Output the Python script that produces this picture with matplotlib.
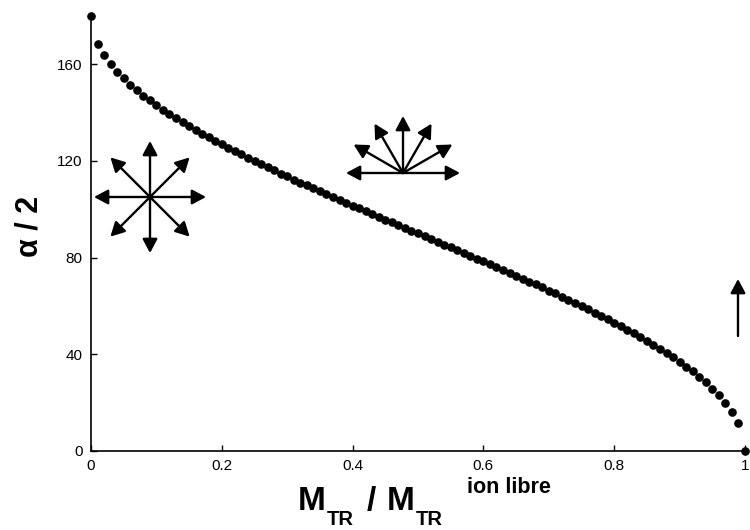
import matplotlib
matplotlib.use("Agg")
import matplotlib.pyplot as plt
import numpy as np

# fraction M_TR / M_TR(ion libre), one point every 0.01
frac = [
    0.00, 0.01, 0.02, 0.03, 0.04, 0.05, 0.06, 0.07, 0.08, 0.09,
    0.10, 0.11, 0.12, 0.13, 0.14, 0.15, 0.16, 0.17, 0.18, 0.19,
    0.20, 0.21, 0.22, 0.23, 0.24, 0.25, 0.26, 0.27, 0.28, 0.29,
    0.30, 0.31, 0.32, 0.33, 0.34, 0.35, 0.36, 0.37, 0.38, 0.39,
    0.40, 0.41, 0.42, 0.43, 0.44, 0.45, 0.46, 0.47, 0.48, 0.49,
    0.50, 0.51, 0.52, 0.53, 0.54, 0.55, 0.56, 0.57, 0.58, 0.59,
    0.60, 0.61, 0.62, 0.63, 0.64, 0.65, 0.66, 0.67, 0.68, 0.69,
    0.70, 0.71, 0.72, 0.73, 0.74, 0.75, 0.76, 0.77, 0.78, 0.79,
    0.80, 0.81, 0.82, 0.83, 0.84, 0.85, 0.86, 0.87, 0.88, 0.89,
    0.90, 0.91, 0.92, 0.93, 0.94, 0.95, 0.96, 0.97, 0.98, 0.99,
    1.00,
]
# half cone angle alpha/2 (degrees)
half_angle = [
    180.0, 168.5, 163.7, 160.1, 156.9, 154.2, 151.6, 149.3, 147.1, 145.1,
    143.1, 141.3, 139.5, 137.7, 136.1, 134.4, 132.8, 131.3, 129.8, 128.3,
    126.9, 125.5, 124.1, 122.7, 121.3, 120.0, 118.7, 117.4, 116.1, 114.8,
    113.6, 112.3, 111.1, 109.9, 108.7, 107.5, 106.3, 105.1, 103.9, 102.7,
    101.5, 100.4, 99.2, 98.1, 96.9, 95.7, 94.6, 93.5, 92.3, 91.2,
    90.0, 88.9, 87.7, 86.5, 85.4, 84.3, 83.1, 82.0, 80.8, 79.6,
    78.5, 77.3, 76.1, 74.9, 73.7, 72.5, 71.3, 70.1, 68.9, 67.7,
    66.4, 65.2, 63.9, 62.6, 61.3, 60.0, 58.7, 57.3, 55.9, 54.6,
    53.1, 51.7, 50.2, 48.7, 47.2, 45.6, 44.0, 42.3, 40.5, 38.7,
    36.9, 34.9, 32.9, 30.7, 28.4, 25.8, 23.1, 20.0, 16.3, 11.5,
    0.0,
]
x_ticks = [0, 0.2, 0.4, 0.6, 0.8, 1.0]
x_ticklabels = ["0", "0.2", "0.4", "0.6", "0.8", "1"]
y_ticks = [0, 40, 80, 120, 160]

plt.rcParams["font.family"] = ["Liberation Sans", "DejaVu Sans"]

W, H = 750, 530
fig = plt.figure(figsize=(W / 100, H / 100), dpi=100)
ax = fig.add_axes([91 / W, (H - 451) / H, (745 - 91) / W, (451 - 16) / H])

ax.plot(frac, half_angle, "o", color="black", markersize=5.2, clip_on=False, zorder=5)

ax.set_xlim(0, 1)
ax.set_ylim(0, 180)
ax.set_xticks(x_ticks)
ax.set_xticklabels(x_ticklabels)
ax.set_yticks(y_ticks)
ax.tick_params(direction="in", length=4, width=1, labelsize=11, pad=6)
for side in ["top", "right"]:
    ax.spines[side].set_visible(False)
for side in ["left", "bottom"]:
    ax.spines[side].set_linewidth(1.2)


def fpos(px, py):
    # pixel position (from top-left) -> figure fraction
    return px / W, (H - py) / H


# axis titles built from pieces so the subscripts sit low like the original
big = dict(fontsize=24, fontweight="bold", va="baseline", ha="left")
sub = dict(fontsize=14.5, fontweight="bold", va="baseline", ha="left")
fig.text(*fpos(298, 510), "M", **big)
fig.text(*fpos(327, 525), "TR", **sub)
fig.text(*fpos(367, 510), "/", **big)
fig.text(*fpos(387, 510), "M", **big)
fig.text(*fpos(416, 525), "TR", **sub)
fig.text(*fpos(467, 493), "ion libre", fontsize=15.5, fontweight="bold",
         va="baseline", ha="left")
fig.text(*fpos(29, 226), "\u03b1 / 2", fontsize=22, fontweight="bold",
         rotation=90, ha="center", va="center")

# orientation sketches
arrow_kw = dict(arrowstyle="-|>,head_length=0.6,head_width=0.32",
                color="black", lw=1.7, shrinkA=0, shrinkB=0, mutation_scale=14)


def draw_arrow(x0, y0, x1, y1):
    ax.annotate("", xy=(x1, H - y1), xytext=(x0, H - y0),
                xycoords="figure pixels", textcoords="figure pixels",
                arrowprops=arrow_kw)


# isotropic star
cx, cy, r = 150, 197, 56
for ang in range(0, 360, 45):
    t = np.radians(ang)
    draw_arrow(cx, cy, cx + r * np.cos(t), cy - r * np.sin(t))

# upper half fan
cx, cy, r = 403, 173, 57
for ang in range(0, 181, 30):
    t = np.radians(ang)
    draw_arrow(cx, cy, cx + r * np.cos(t), cy - r * np.sin(t))

# single aligned moment
draw_arrow(738, 336, 738, 279)

fig.savefig("out.png", dpi=100)
